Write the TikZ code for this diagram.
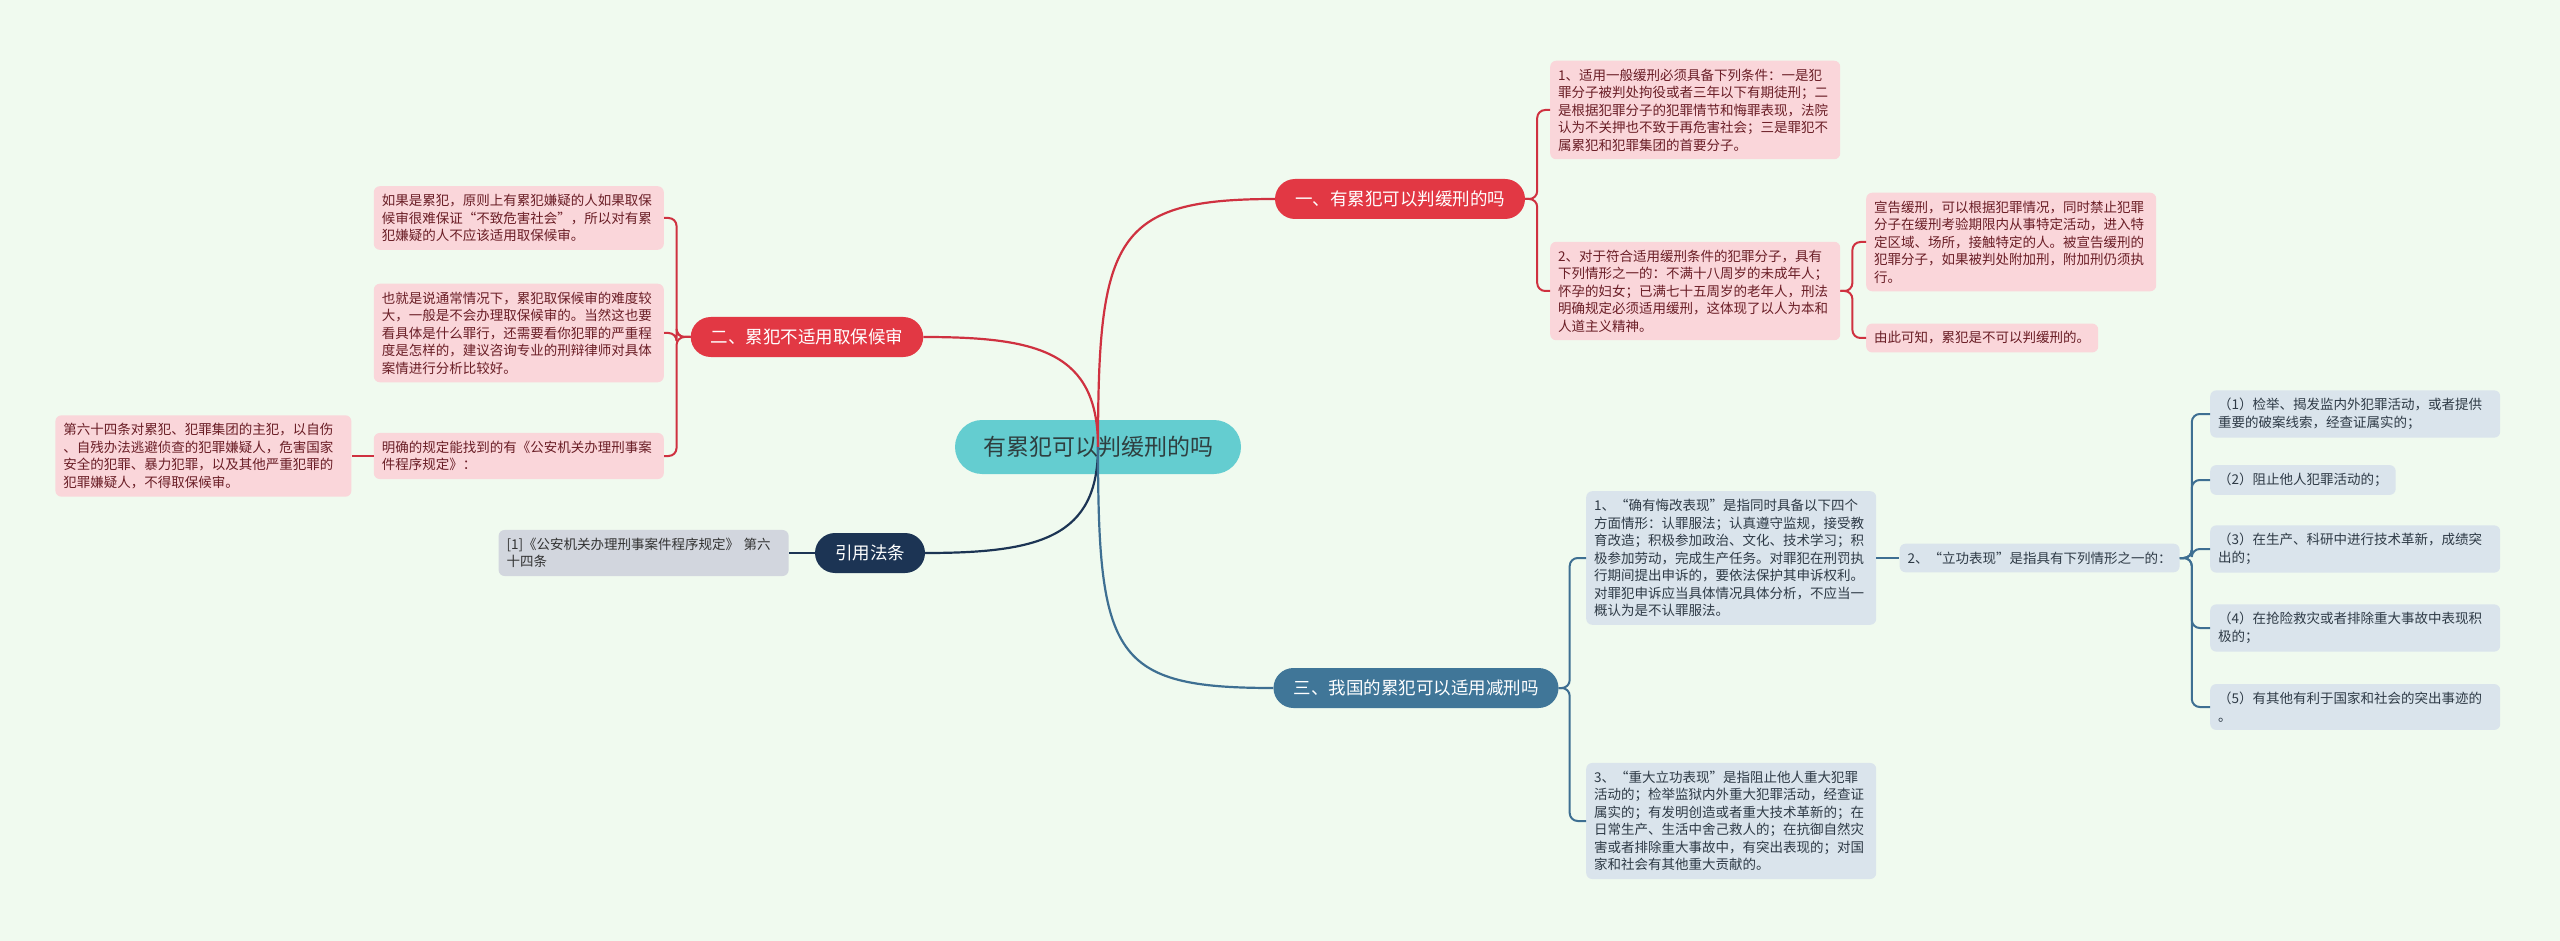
\documentclass[tikz,border=0pt]{standalone}
\usepackage{fontspec}
\setmainfont{Noto Sans CJK SC}
\usetikzlibrary{positioning}

\definecolor{bgmint}{HTML}{F0FAEF}
\definecolor{centrefill}{HTML}{64CDD0}
\definecolor{centretext}{HTML}{2F3F40}
\definecolor{redmain}{HTML}{E23844}
\definecolor{redline}{HTML}{CF3140}
\definecolor{redleaf}{HTML}{FAD6DA}
\definecolor{redtext}{HTML}{6A1E26}
\definecolor{bluemain}{HTML}{407698}
\definecolor{blueline}{HTML}{3E6F92}
\definecolor{blueleaf}{HTML}{DAE4EC}
\definecolor{bluetext}{HTML}{2E3A46}
\definecolor{navymain}{HTML}{1C3454}
\definecolor{grayleaf}{HTML}{D2D6DE}

\begin{document}
\begin{tikzpicture}[x=1pt, y=-1pt,
    centre/.style={fill=centrefill, rounded corners=27pt, minimum height=54pt,
                   inner xsep=28pt, text=centretext, font=\fontsize{23}{27}\selectfont},
    topic/.style={rounded corners=20pt, minimum height=40pt, inner xsep=20pt,
                  text=white, font=\fontsize{17.5}{21}\selectfont},
    topicred/.style={topic, fill=redmain},
    topicblue/.style={topic, fill=bluemain},
    topicnavy/.style={topic, fill=navymain},
    leaf/.style={rounded corners=6pt, inner sep=8pt, align=left,
                 font=\fontsize{13.5}{17.5}\selectfont},
    leafred/.style={leaf, fill=redleaf, text=redtext},
    leafblue/.style={leaf, fill=blueleaf, text=bluetext},
    leafgray/.style={leaf, fill=grayleaf, text=black!80},
    wide/.style={text width=274pt},
    link/.style={line width=2.2pt},
    bracket/.style={line width=2pt, rounded corners=8pt},
]
\fill[bgmint] (0,0) rectangle (2560,941);
\useasboundingbox (0,0) rectangle (2560,941);

% 中心与主题
\node[centre] (c) at (1098,447) {有累犯可以判缓刑的吗};
\node[topicred] (b1) at (1400,199) {一、有累犯可以判缓刑的吗};
\node[topicred] (b2) at (807,337) {二、累犯不适用取保候审};
\node[topicnavy] (b4) at (870,553) {引用法条};
\node[topicblue] (b3) at (1416,688) {三、我国的累犯可以适用减刑吗};

% 一
\node[leafred, wide, anchor=west] (l1a) at (1550,110) {1、适用一般缓刑必须具备下列条件：一是犯\\罪分子被判处拘役或者三年以下有期徒刑；二\\是根据犯罪分子的犯罪情节和悔罪表现，法院\\认为不关押也不致于再危害社会；三是罪犯不\\属累犯和犯罪集团的首要分子。};
\node[leafred, wide, anchor=west] (l1b) at (1550,291) {2、对于符合适用缓刑条件的犯罪分子，具有\\下列情形之一的：不满十八周岁的未成年人；\\怀孕的妇女；已满七十五周岁的老年人，刑法\\明确规定必须适用缓刑，这体现了以人为本和\\人道主义精神。};
\node[leafred, wide, anchor=west] (l1b1) at (1866,242) {宣告缓刑，可以根据犯罪情况，同时禁止犯罪\\分子在缓刑考验期限内从事特定活动，进入特\\定区域、场所，接触特定的人。被宣告缓刑的\\犯罪分子，如果被判处附加刑，附加刑仍须执\\行。};
\node[leafred, anchor=west] (l1b2) at (1866,338) {由此可知，累犯是不可以判缓刑的。};

% 二
\node[leafred, wide, anchor=east] (l2a) at (664,218) {如果是累犯，原则上有累犯嫌疑的人如果取保\\候审很难保证“不致危害社会”，所以对有累\\犯嫌疑的人不应该适用取保候审。};
\node[leafred, wide, anchor=east] (l2b) at (664,333) {也就是说通常情况下，累犯取保候审的难度较\\大，一般是不会办理取保候审的。当然这也要\\看具体是什么罪行，还需要看你犯罪的严重程\\度是怎样的，建议咨询专业的刑辩律师对具体\\案情进行分析比较好。};
\node[leafred, wide, anchor=east] (l2c) at (664,456) {明确的规定能找到的有《公安机关办理刑事案\\件程序规定》：};
\node[leafred, text width=280pt, left=22pt of l2c] (l2c1) {第六十四条对累犯、犯罪集团的主犯，以自伤\\、自残办法逃避侦查的犯罪嫌疑人，危害国家\\安全的犯罪、暴力犯罪，以及其他严重犯罪的\\犯罪嫌疑人，不得取保候审。};

% 引用法条
\node[leafgray, wide, left=26pt of b4] (lref) {[1]《公安机关办理刑事案件程序规定》 第六\\十四条};

% 三
\node[leafblue, wide, anchor=west] (l3a) at (1586,558) {1、“确有悔改表现”是指同时具备以下四个\\方面情形：认罪服法；认真遵守监规，接受教\\育改造；积极参加政治、文化、技术学习；积\\极参加劳动，完成生产任务。对罪犯在刑罚执\\行期间提出申诉的，要依法保护其申诉权利。\\对罪犯申诉应当具体情况具体分析，不应当一\\概认为是不认罪服法。};
\node[leafblue, right=23pt of l3a] (l3a1) {2、“立功表现”是指具有下列情形之一的：};
\node[leafblue, wide, anchor=west] (k1) at (2210,414) {（1）检举、揭发监内外犯罪活动，或者提供\\重要的破案线索，经查证属实的；};
\node[leafblue, anchor=west] (k2) at (2210,480) {（2）阻止他人犯罪活动的；};
\node[leafblue, wide, anchor=west] (k3) at (2210,549) {（3）在生产、科研中进行技术革新，成绩突\\出的；};
\node[leafblue, wide, anchor=west] (k4) at (2210,628) {（4）在抢险救灾或者排除重大事故中表现积\\极的；};
\node[leafblue, wide, anchor=west] (k5) at (2210,707) {（5）有其他有利于国家和社会的突出事迹的\\。};
\node[leafblue, wide, anchor=west] (l3b) at (1586,821) {3、“重大立功表现”是指阻止他人重大犯罪\\活动的；检举监狱内外重大犯罪活动，经查证\\属实的；有发明创造或者重大技术革新的；在\\日常生产、生活中舍己救人的；在抗御自然灾\\害或者排除重大事故中，有突出表现的；对国\\家和社会有其他重大贡献的。};

% 主干曲线
\draw[link, redline] (c.center) .. controls +(0,-210) and +(-160,0) .. (b1.west);
\draw[link, redline] (c.center) .. controls +(0,-95) and +(115,0) .. (b2.east);
\draw[link, navymain] (c.center) .. controls +(0,90) and +(115,0) .. (b4.east);
\draw[link, blueline] (c.center) .. controls +(0,210) and +(-160,0) .. (b3.west);

% 分支连线
\draw[bracket, redline] (b1.east) -- ++(12,0) |- (l1a.west);
\draw[bracket, redline] (b1.east) -- ++(12,0) |- (l1b.west);
\draw[bracket, redline] (l1b.east) -- ++(12,0) |- (l1b1.west);
\draw[bracket, redline] (l1b.east) -- ++(12,0) |- (l1b2.west);
\draw[bracket, redline] (b2.west) -- ++(-14,0) |- (l2a.east);
\draw[bracket, redline] (b2.west) -- ++(-14,0) |- (l2b.east);
\draw[bracket, redline] (b2.west) -- ++(-14,0) |- (l2c.east);
\draw[bracket, redline] (l2c.west) -- (l2c1.east);
\draw[bracket, navymain] (b4.west) -- (lref.east);
\draw[bracket, blueline] (b3.east) -- ++(11,0) |- (l3a.west);
\draw[bracket, blueline] (b3.east) -- ++(11,0) |- (l3b.west);
\draw[bracket, blueline] (l3a.east) -- (l3a1.west);
\draw[bracket, blueline] (l3a1.east) -- ++(12,0) |- (k1.west);
\draw[bracket, blueline] (l3a1.east) -- ++(12,0) |- (k2.west);
\draw[bracket, blueline] (l3a1.east) -- ++(12,0) |- (k3.west);
\draw[bracket, blueline] (l3a1.east) -- ++(12,0) |- (k4.west);
\draw[bracket, blueline] (l3a1.east) -- ++(12,0) |- (k5.west);
\end{tikzpicture}
\end{document}
